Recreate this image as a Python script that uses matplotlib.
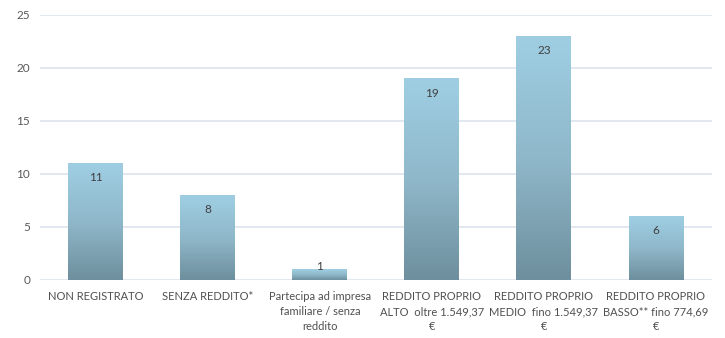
import numpy as np
import matplotlib.pyplot as plt
from matplotlib.colors import LinearSegmentedColormap

plt.rcParams['font.family'] = ['Lato', 'DejaVu Sans']

categories = [
    "NON REGISTRATO",
    "SENZA REDDITO*",
    "Partecipa ad impresa\nfamiliare / senza\nreddito",
    "REDDITO PROPRIO\nALTO  oltre 1.549,37\n€",
    "REDDITO PROPRIO\nMEDIO  fino 1.549,37\n€",
    "REDDITO PROPRIO\nBASSO** fino 774,69\n€",
]
values = [11, 8, 1, 19, 23, 6]
yticks = [0, 5, 10, 15, 20, 25]

fig = plt.figure(figsize=(7.25, 3.38), dpi=100)
ax = fig.add_axes([0.055, 0.172, 0.927, 0.784])

x = np.arange(len(values))
bars = ax.bar(x, values, width=0.49, color='none', zorder=2)

# vertical gradient in every bar: light blue on top, grey-blue at the base
grad = LinearSegmentedColormap.from_list('bar', ['#6e8f9d', '#8fb8ca', '#9fcee3'])
g = np.linspace(0, 1, 256).reshape(-1, 1)
for b in bars:
    x0, w, h = b.get_x(), b.get_width(), b.get_height()
    im = ax.imshow(g, cmap=grad, origin='lower', aspect='auto',
                   extent=(x0, x0 + w, 0, h), zorder=2)
    im.set_clip_path(b)

for xi, v in zip(x, values):
    off = -10.5 if v >= 3 else 2
    ax.annotate(str(v), (xi, v), xytext=(0, off), textcoords='offset points',
                ha='center', va='center', fontsize=8.5, color='#404040', zorder=3)

ax.set_xlim(-0.5, len(values) - 0.5)
ax.set_ylim(0, 25)
ax.set_yticks(yticks)
ax.set_xticks(x)
ax.set_xticklabels(categories, fontsize=8, color='#505050', linespacing=1.45)
ax.tick_params(axis='y', labelsize=8.5, labelcolor='#595959', length=0, pad=7)
ax.tick_params(axis='x', length=0, pad=8)
ax.grid(axis='y', color='#dce4ec', linewidth=1.2, zorder=0)
ax.set_axisbelow(True)
for s in ax.spines.values():
    s.set_visible(False)

fig.savefig('out.png', dpi=100)
